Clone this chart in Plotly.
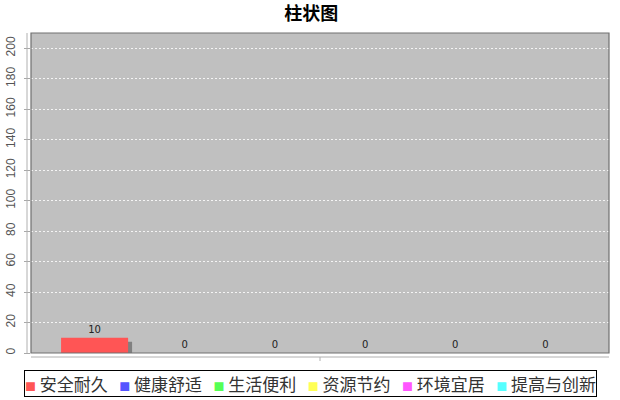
import plotly.graph_objects as go

title = "柱状图"
category = ["指标"]
series_names = ["安全耐久", "健康舒适", "生活便利", "资源节约", "环境宜居", "提高与创新"]
series_values = [10, 0, 0, 0, 0, 0]
series_colors = ["#FF5555", "#5555FF", "#55FF55", "#FFFF55", "#FF55FF", "#55FFFF"]
y_ticks = list(range(0, 201, 20))

W, H = 620, 400
L, R, T, B = 31, 11, 33, 47
pw = W - L - R
ph = H - T - B
ymax = 210
shadow_px = 4
px_per_unit = ph / ymax

# group layout (in category units)
n = len(series_names)
slot = 0.156
bar_w = 0.116
group_start = -n * slot / 2
dx = shadow_px / pw
dy = shadow_px / px_per_unit

fig = go.Figure()

# shadows first (drawn below)
for i, (name, val) in enumerate(zip(series_names, series_values)):
    off = group_start + i * slot + (slot - bar_w) / 2
    fig.add_trace(go.Bar(
        x=category, y=[val], base=[-dy], name=name, showlegend=False,
        offset=off + dx, width=bar_w,
        marker=dict(color="#808080", line=dict(width=0)), hoverinfo="skip",
    ))

for i, (name, val, col) in enumerate(zip(series_names, series_values, series_colors)):
    off = group_start + i * slot + (slot - bar_w) / 2
    fig.add_trace(go.Bar(
        x=category, y=[val], name=name, showlegend=False,
        offset=off, width=bar_w,
        marker=dict(color=col, line=dict(width=0)),
        text=[str(val)], textposition="outside",
        textfont=dict(size=10, color="#222", family="DejaVu Sans"),
        cliponaxis=True,
    ))

# legend built as one boxed line from series names/colours
NB = "\u00a0"
legend_parts = []
for name, col in zip(series_names, series_colors):
    legend_parts.append(
        '<span style="font-size:11px;color:%s">■</span>'
        '<span style="font-size:17px;color:#333333">%s%s</span>' % (col, NB, name))
legend_text = (NB * 3).join(legend_parts)

fig.add_annotation(
    text=legend_text, xref="paper", yref="paper",
    x=(310 - L) / pw, y=-(383 - (H - B)) / ph, xanchor="center", yanchor="middle",
    showarrow=False, bordercolor="black", borderwidth=1, borderpad=0, bgcolor="white",
    font=dict(family="Noto Sans CJK SC", size=17, color="#333333"),
)

fig.update_layout(
    width=W, height=H,
    margin=dict(l=L, r=R, t=T, b=B, autoexpand=False),
    paper_bgcolor="white",
    plot_bgcolor="#C0C0C0",
    barmode="overlay",
    title=dict(text="<b>" + title + "</b>", x=0.502, xanchor="center", y=0.966, yanchor="middle",
               font=dict(size=18, color="black", family="Noto Sans CJK SC")),
    xaxis=dict(range=[-0.5, 0.5], showticklabels=False, showgrid=False, zeroline=False,
               showline=False, ticks="", automargin=False),
    yaxis=dict(range=[0, ymax], tickvals=y_ticks, tickangle=-90, showgrid=True,
               gridcolor="#F4F4F4", griddash="2px,2px", gridwidth=0.6, zeroline=False,
               ticks="outside", ticklen=6, tickcolor="#A8A8A8", showline=False,
               ticklabelstandoff=4, automargin=False,
               tickfont=dict(size=12, color="#555", family="Liberation Sans")),
    showlegend=False,
)

# plot border and offset axis lines
fig.add_shape(type="rect", xref="paper", yref="paper", x0=0, x1=1, y0=0, y1=1,
              line=dict(color="#707070", width=1.2))
fig.add_shape(type="line", xref="paper", yref="paper", x0=-4 / pw, x1=-4 / pw, y0=0, y1=1,
              line=dict(color="#B0B0B0", width=1))
fig.add_shape(type="line", xref="paper", yref="paper", x0=0, x1=1, y0=-4 / ph, y1=-4 / ph,
              line=dict(color="#B0B0B0", width=1))
fig.add_shape(type="line", xref="x", yref="paper", x0=0, x1=0, y0=-4 / ph, y1=-8 / ph,
              line=dict(color="#B0B0B0", width=1))

fig.write_html("out.html", config={"displayModeBar": False},
               post_script="document.body.style.margin='0px';document.body.style.overflow='hidden';")
